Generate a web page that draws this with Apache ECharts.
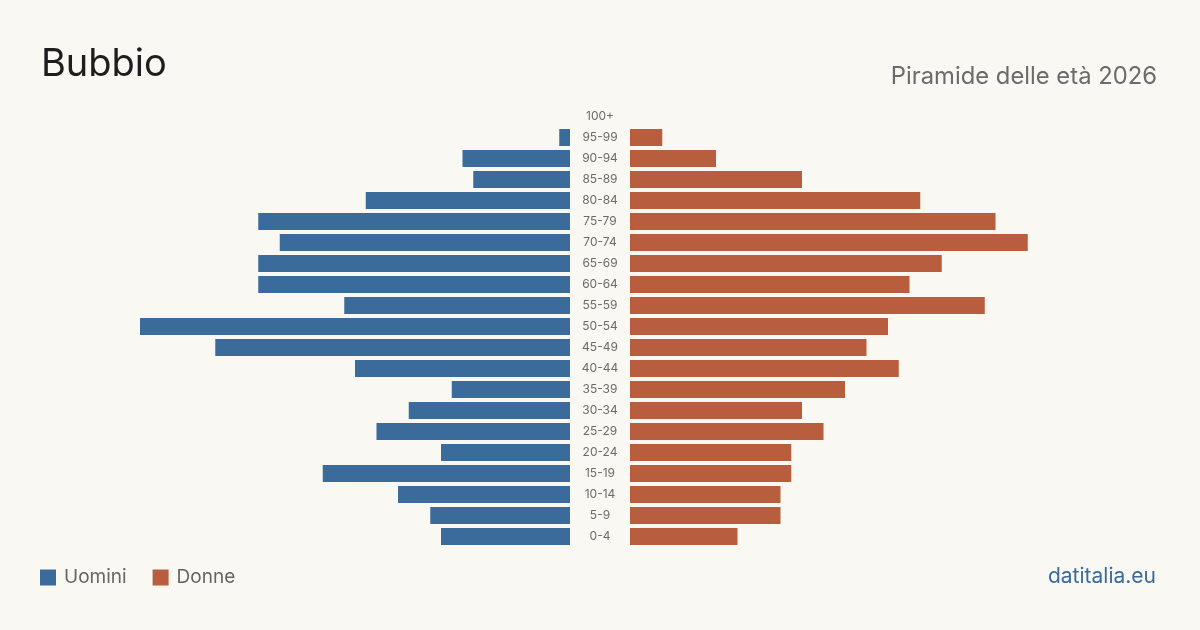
<!DOCTYPE html>
<html><head><meta charset="utf-8">
<script src="https://cdn.jsdelivr.net/npm/echarts@6/dist/echarts.min.js"></script>
<style>html,body{margin:0;padding:0;background:#f9f8f3;}#c{width:1200px;height:630px;}</style>
</head><body><div id="c"></div>
<script>
const categories = ['0-4','5-9','10-14','15-19','20-24','25-29','30-34','35-39','40-44','45-49','50-54','55-59','60-64','65-69','70-74','75-79','80-84','85-89','90-94','95-99','100+'];
const uomini = [12,13,16,23,12,18,15,11,20,33,40,21,29,29,27,29,19,9,10,1,0];
const donne  = [10,14,14,15,15,18,16,20,25,22,24,33,26,29,37,34,27,16,8,3,0];
const FONT = 'Inter, "Noto Sans", sans-serif';
const chart = echarts.init(document.getElementById('c'));
chart.setOption({
  backgroundColor: '#f9f8f3',
  animation: false,
  textStyle: {fontFamily: FONT},
  title: [
    {text: 'Bubbio', left: 36, top: 41, padding: 5, textStyle: {fontSize: 38, fontWeight: 'normal', color: '#1e1e1e', fontFamily: FONT}},
    {text: 'Piramide delle età 2026', right: 38, top: 60, textStyle: {fontSize: 23.8, fontWeight: 'normal', color: '#6b6b6b', fontFamily: FONT}},
    {text: 'datitalia.eu', right: 39, top: 561, textStyle: {fontSize: 21, fontWeight: 'normal', color: '#3b6b9b', fontFamily: FONT}}
  ],
  legend: {
    left: 40, top: 568, padding: 0, itemWidth: 16, itemHeight: 16, itemGap: 26, icon: 'rect',
    textStyle: {fontSize: 19, color: '#666', fontFamily: FONT, padding: [0,0,0,3]},
    data: ['Uomini','Donne']
  },
  grid: [
    {left: 140, width: 430, top: 106, height: 441},
    {left: 630, width: 430, top: 106, height: 441}
  ],
  xAxis: [
    {gridIndex: 0, type: 'value', min: 0, max: 40, inverse: true, show: false},
    {gridIndex: 1, type: 'value', min: 0, max: 40, show: false}
  ],
  yAxis: [
    {gridIndex: 0, type: 'category', data: categories, position: 'right',
     axisLine: {show: false}, axisTick: {show: false},
     axisLabel: {align: 'center', margin: 30, fontSize: 12, color: '#6b6b6b', fontFamily: FONT, padding: [2,0,0,0]}},
    {gridIndex: 1, type: 'category', data: categories, show: false}
  ],
  series: [
    {name: 'Uomini', type: 'bar', xAxisIndex: 0, yAxisIndex: 0, data: uomini, barWidth: 17, itemStyle: {color: '#3b6b9b'}},
    {name: 'Donne', type: 'bar', xAxisIndex: 1, yAxisIndex: 1, data: donne, barWidth: 17, itemStyle: {color: '#b85d3d'}}
  ]
});
</script></body></html>
